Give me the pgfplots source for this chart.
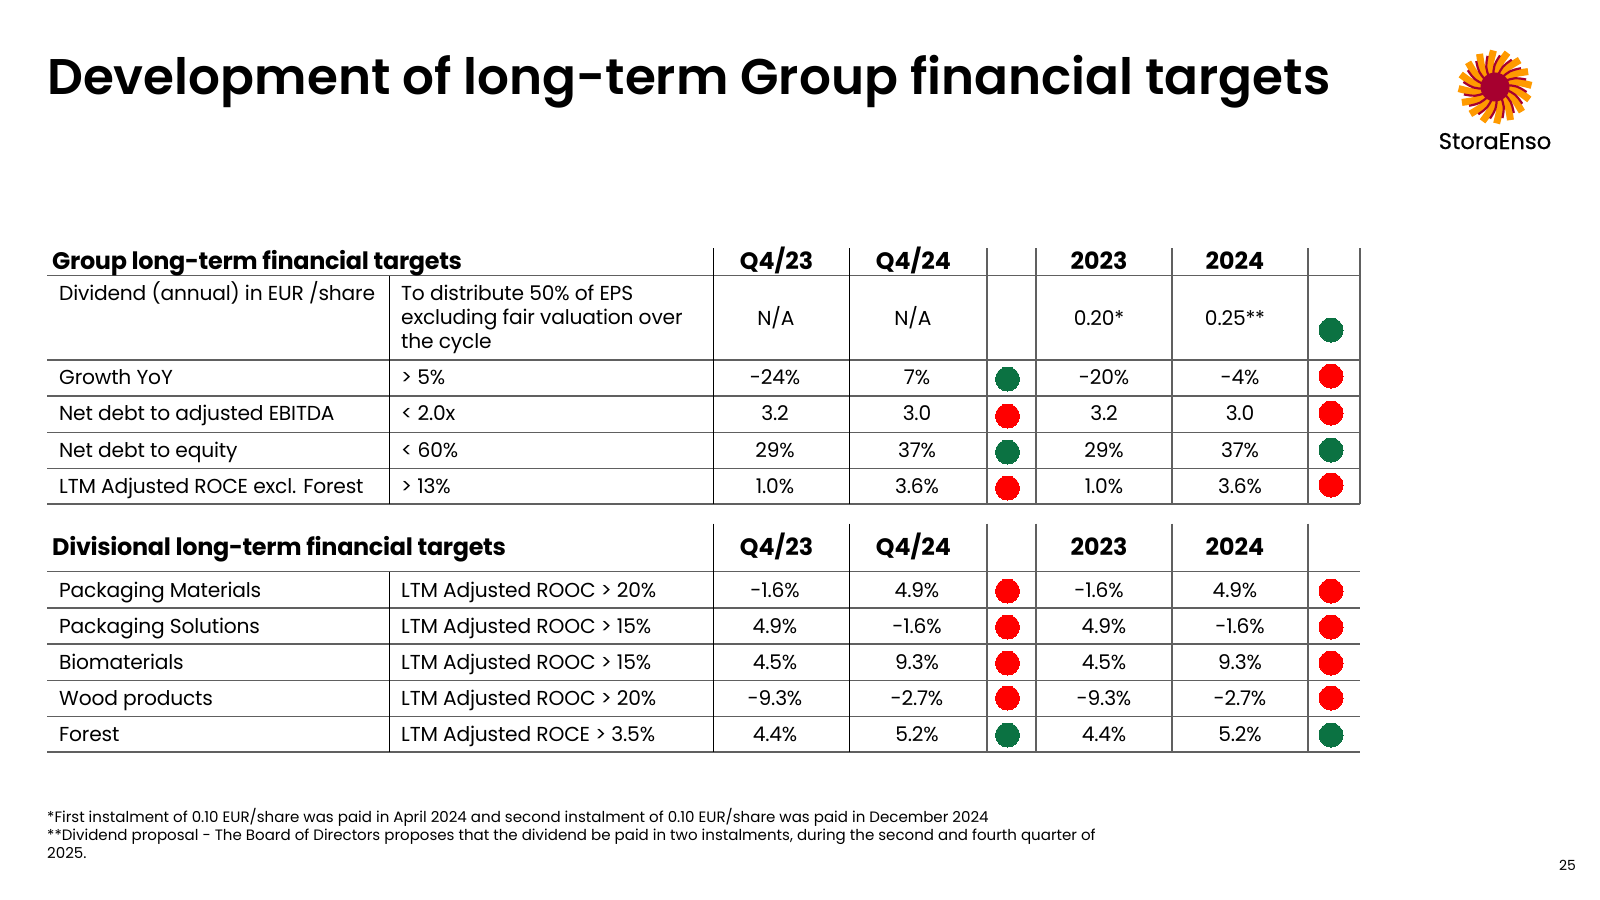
\documentclass[border=0pt]{standalone}
\usepackage{fontspec}
\setmainfont{Poppins}
\newfontfamily\tightfont[LetterSpace=-0.9]{Poppins}
\newfontfamily\headfont[LetterSpace=-1.3]{Poppins}
\newfontfamily\titlefont{Poppins SemiBold}
\newfontfamily\logofont[FakeBold=0.6]{Poppins}
\usepackage{pgfplots}
\pgfplotsset{compat=1.18}
\definecolor{okgreen}{HTML}{0B7242}
\definecolor{rulegrey}{HTML}{606060}
\definecolor{logoorange}{HTML}{FF9A00}
\definecolor{logored}{HTML}{A6002F}
\newcommand{\body}[3]{\node[anchor=base west,inner sep=0pt] at (axis cs:#1,#2) {\fontsize{20.3}{25}\tightfont #3};}
\newcommand{\val}[3]{\node[anchor=base,inner sep=0pt] at (axis cs:#1,#2) {\fontsize{20.3}{25}\tightfont #3};}
\newcommand{\hd}[3]{\node[anchor=base,inner sep=0pt] at (axis cs:#1,#2) {\fontsize{23.8}{28}\selectfont\bfseries #3};}
\newcommand{\note}[2]{\node[anchor=base west,inner sep=0pt] at (axis cs:47,#1) {\fontsize{15.1}{18}\selectfont #2};}
\newcommand{\valrow}[5]{\val{775}{#1}{#2}\val{917}{#1}{#3}\val{1104}{#1}{#4}\val{1240}{#1}{#5}}
\begin{document}
\begin{tikzpicture}
\path[use as bounding box] (0,0) rectangle (1600bp,900bp);
\begin{axis}[
  at={(0,0)}, anchor=south west,
  scale only axis, width=1600bp, height=900bp,
  xmin=0, xmax=1600, ymin=0, ymax=900,
  y dir=reverse, hide axis, clip=false,
]
% horizontal rules
\addplot[rulegrey, line width=1.6bp, forget plot] table[empty line=jump] {
47 275.5
1360 275.5

47 360
1360 360

47 396
1360 396

47 432.5
1360 432.5

47 468.5
1360 468.5

47 504
1360 504

47 571.5
1360 571.5

47 608
1360 608

47 644
1360 644

47 680.5
1360 680.5

47 716.5
1360 716.5

47 752
1360 752
};
% thin black column rules
\addplot[black, line width=0.8bp, forget plot] table[empty line=jump] {
389 275.5
389 504

713 248
713 504

849 248
849 504

389 571.5
389 752

713 523.5
713 752

849 523.5
849 752
};
% grey column rules
\addplot[rulegrey, line width=1.6bp, forget plot] table[empty line=jump] {
987 248
987 504

1036 248
1036 504

1172 248
1172 504

1308 248
1308 504

1360 248
1360 504

987 523.5
987 752

1036 523.5
1036 752

1172 523.5
1172 752

1308 523.5
1308 752
};
% status dots
\addplot[only marks, mark=*, mark size=12bp, mark options={fill=okgreen, draw=okgreen, line width=0pt}, forget plot] table {
1007.5 379
1007.5 452
1007.5 735
1331 330
1331 450
1331 735
};
\addplot[only marks, mark=*, mark size=12bp, mark options={fill=red, draw=red, line width=0pt}, forget plot] table {
1007.5 416
1007.5 488
1007.5 591
1007.5 627
1007.5 663
1007.5 698
1331 376
1331 413
1331 485
1331 591
1331 627
1331 663
1331 698
};
% title
\node[anchor=base west,inner sep=0pt] at (axis cs:47,94) {\fontsize{50.25}{58}\titlefont Development of long-term Group financial targets};
% group table
\node[anchor=base west,inner sep=0pt] at (axis cs:52,269) {\fontsize{24}{28}\headfont\bfseries Group long-term financial targets};
\hd{776.5}{269}{Q4/23}\hd{913.5}{269}{Q4/24}\hd{1099}{269}{2023}\hd{1235}{269}{2024}
\body{59}{300}{Dividend (annual) in EUR /share}
\body{401}{300}{To distribute 50\% of EPS}
\body{401}{324}{excluding fair valuation over}
\body{401}{348}{the cycle}
\val{776}{325}{N/A}\val{913}{325}{N/A}\val{1099}{325}{0.20*}\val{1235}{325}{0.25**}
\body{59}{384}{Growth YoY}\body{401}{384}{> 5\%}
\valrow{384}{-24\%}{7\%}{-20\%}{-4\%}
\body{59}{420}{Net debt to adjusted EBITDA}\body{401}{420}{< 2.0x}
\valrow{420}{3.2}{3.0}{3.2}{3.0}
\body{59}{457}{Net debt to equity}\body{401}{457}{< 60\%}
\valrow{457}{29\%}{37\%}{29\%}{37\%}
\body{59}{493}{LTM Adjusted ROCE excl. Forest}\body{401}{493}{> 13\%}
\valrow{493}{1.0\%}{3.6\%}{1.0\%}{3.6\%}
% divisional table
\node[anchor=base west,inner sep=0pt] at (axis cs:52,555) {\fontsize{24}{28}\headfont\bfseries Divisional long-term financial targets};
\hd{776.5}{555}{Q4/23}\hd{913.5}{555}{Q4/24}\hd{1099}{555}{2023}\hd{1235}{555}{2024}
\body{59}{597}{Packaging Materials}\body{401}{597}{LTM Adjusted ROOC > 20\%}
\val{775}{597}{-1.6\%}\val{917}{597}{4.9\%}\val{1099}{597}{-1.6\%}\val{1235}{597}{4.9\%}
\body{59}{633}{Packaging Solutions}\body{401}{633}{LTM Adjusted ROOC > 15\%}
\valrow{633}{4.9\%}{-1.6\%}{4.9\%}{-1.6\%}
\body{59}{669}{Biomaterials}\body{401}{669}{LTM Adjusted ROOC > 15\%}
\valrow{669}{4.5\%}{9.3\%}{4.5\%}{9.3\%}
\body{59}{705}{Wood products}\body{401}{705}{LTM Adjusted ROOC > 20\%}
\valrow{705}{-9.3\%}{-2.7\%}{-9.3\%}{-2.7\%}
\body{59}{741}{Forest}\body{401}{741}{LTM Adjusted ROCE > 3.5\%}
\valrow{741}{4.4\%}{5.2\%}{4.4\%}{5.2\%}
% footnotes, page number
\note{822}{*First instalment of 0.10 EUR/share was paid in April 2024 and second instalment of 0.10 EUR/share was paid in December 2024}
\note{840}{**Dividend proposal - The Board of Directors proposes that the dividend be paid in two instalments, during the second and fourth quarter of}
\note{858}{2025.}
\node[anchor=base east,inner sep=0pt] at (axis cs:1576,870) {\fontsize{14}{16}\selectfont 25};
% company name
\node[anchor=base,inner sep=0pt] at (axis cs:1495,149) {\fontsize{22.8}{25}\logofont StoraEnso};
\end{axis}
% logo
\begin{scope}[shift={(1495bp,813bp)}]
\foreach \a in {0,22.5,...,337.5} {
  \draw[logoorange,line width=7bp] (\a:10bp) .. controls (\a-8:22bp) .. (\a-20:36.5bp);
}
\foreach \a in {11,33.5,...,348.5} {
  \draw[logored,line width=2.2bp] (\a:10bp) .. controls (\a-8:22bp) .. (\a-20:32bp);
}
\fill[logored] (0,0) circle (14.5bp);
\end{scope}
\end{tikzpicture}
\end{document}
